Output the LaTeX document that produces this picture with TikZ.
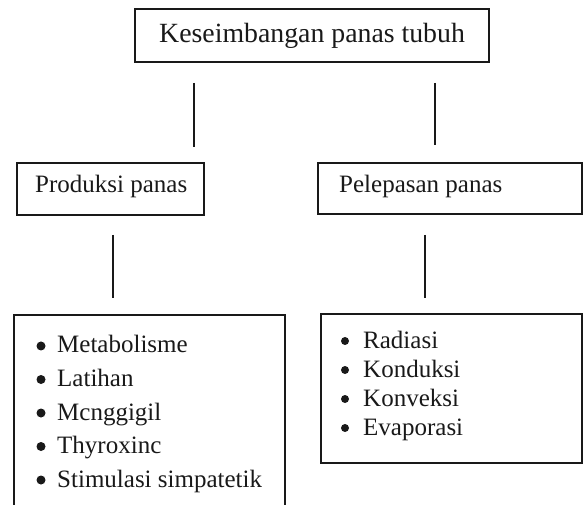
\documentclass[tikz,border=0pt]{standalone}
\usepackage{fontspec}
\setmainfont{Liberation Serif}
\begin{document}
\begin{tikzpicture}[x=1pt,y=1pt,
  box/.style={draw=black!90, line width=1.2pt, inner sep=0pt, rectangle},
  conn/.style={draw=black!90, line width=2.4pt},
  lbl/.style={inner sep=0pt, anchor=base west, font=\fontsize{25}{29}\selectfont, text=black!90},
  toplbl/.style={inner sep=0pt, anchor=base west, font=\fontsize{27.8}{31}\selectfont, text=black!90},
  dot/.style={circle, fill=black!90, inner sep=0pt, minimum size=9pt}
]
\useasboundingbox (0,0) rectangle (584,504);
% boxes
\node[box, minimum width=354pt, minimum height=53pt] (top) at (312,468.5) {};
\node[box, minimum width=187pt, minimum height=52pt] (prod) at (110.5,315) {};
\node[box, minimum width=264pt, minimum height=51pt] (pel) at (450,315.5) {};
\node[box, minimum width=271pt, minimum height=205pt] (plist) at (149.5,86.5) {};
\node[box, minimum width=261pt, minimum height=149pt] (rlist) at (451.5,115.5) {};
% texts
\node[toplbl] (ttop) at (159,461) {Keseimbangan panas tubuh};
\node[lbl] (tprod) at (35,311) {Produksi panas};
\node[lbl] (tpel) at (339,311) {Pelepasan panas};
% left list
\node[lbl] (p1) at (57,151) {Metabolisme};
\node[lbl] (p2) at (57,117.5) {Latihan};
\node[lbl] (p3) at (57,84) {Mcnggigil};
\node[lbl] (p4) at (57,50.5) {Thyroxinc};
\node[lbl] (p5) at (57,17) {Stimulasi simpatetik};
\foreach \y in {151,117.5,84,50.5,17} \node[dot] at (41,\y+7) {};
% right list
\node[lbl] (r1) at (363,156) {Radiasi};
\node[lbl] (r2) at (363,127) {Konduksi};
\node[lbl] (r3) at (363,98) {Konveksi};
\node[lbl] (r4) at (363,69) {Evaporasi};
\foreach \y in {156,127,98,69} \node[dot, minimum size=8pt] at (345,\y+7) {};
% connectors
\coordinate (l1a) at (194,421);
\coordinate (l1b) at (194,357);
\coordinate (r1a) at (435,421);
\coordinate (r1b) at (435,359);
\coordinate (l2a) at (113,269);
\coordinate (l2b) at (113,206);
\coordinate (r2a) at (425,269);
\coordinate (r2b) at (425,206);
\draw[conn] (l1a) -- (l1b);
\draw[conn] (r1a) -- (r1b);
\draw[conn] (l2a) -- (l2b);
\draw[conn] (r2a) -- (r2b);
\end{tikzpicture}
\end{document}
